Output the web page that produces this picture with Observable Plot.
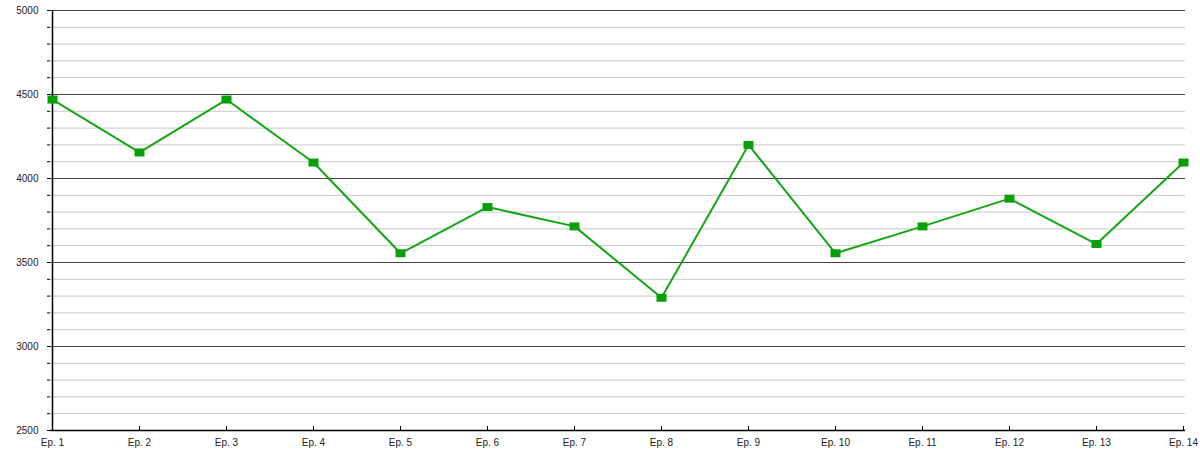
<!DOCTYPE html>
<html>
<head>
<meta charset="utf-8">
<script src="https://cdn.jsdelivr.net/npm/d3@7"></script>
<script src="https://cdn.jsdelivr.net/npm/@observablehq/plot@0.6"></script>
<style>
  body { margin: 0; background: #fff; }
  #chart svg { display: block; }
</style>
</head>
<body>
<div id="chart"></div>
<script>
const episodes = ["Ep. 1","Ep. 2","Ep. 3","Ep. 4","Ep. 5","Ep. 6","Ep. 7","Ep. 8","Ep. 9","Ep. 10","Ep. 11","Ep. 12","Ep. 13","Ep. 14"];
const values = [4470, 4155, 4470, 4095, 3555, 3830, 3715, 3290, 4200, 3555, 3715, 3880, 3610, 4095];
const majorTicks = [2500, 3000, 3500, 4000, 4500, 5000];
const minorTicks = d3.range(2500, 5001, 100).filter(v => v % 500 !== 0);

const data = episodes.map((ep, i) => ({ep, value: values[i]}));

const rectSymbol = { draw(ctx) { ctx.rect(-5, -4, 10, 8); } };

const chart = Plot.plot({
  width: 1200,
  height: 450,
  marginLeft: 50,
  marginRight: 15,
  marginTop: 10,
  marginBottom: 20,
  style: { fontFamily: "Liberation Sans, Arial, sans-serif", fontSize: "10px", color: "#333", background: "#fff" },
  x: { type: "point", domain: episodes, padding: 0, label: null },
  y: { domain: [2500, 5000], label: null },
  marks: [
    Plot.ruleY(minorTicks, { stroke: "#c8c8c8", strokeWidth: 1 }),
    Plot.ruleY(majorTicks, { stroke: "#444", strokeWidth: 1 }),
    Plot.ruleX([episodes[0]], { stroke: "#000", strokeWidth: 1.5 }),
    Plot.ruleY([2500], { stroke: "#000", strokeWidth: 1.5 }),
    Plot.axisY({ ticks: d3.range(2500, 5001, 100), tickSize: 3, tickPadding: 9,
      tickFormat: d => d % 500 === 0 ? String(d) : "", stroke: "#000", fill: "#222" }),
    Plot.axisX({ tickSize: -4, tickFormat: () => "", stroke: "#000" }),
    Plot.axisX({ tickSize: 0, tickPadding: 8, fill: "#222" }),
    Plot.line(data, { x: "ep", y: "value", stroke: "#14a614", strokeWidth: 2 }),
    Plot.dot(data, { x: "ep", y: "value", symbol: rectSymbol, fill: "#08a008", stroke: "none" })
  ]
});
document.getElementById("chart").append(chart);
</script>
</body>
</html>
